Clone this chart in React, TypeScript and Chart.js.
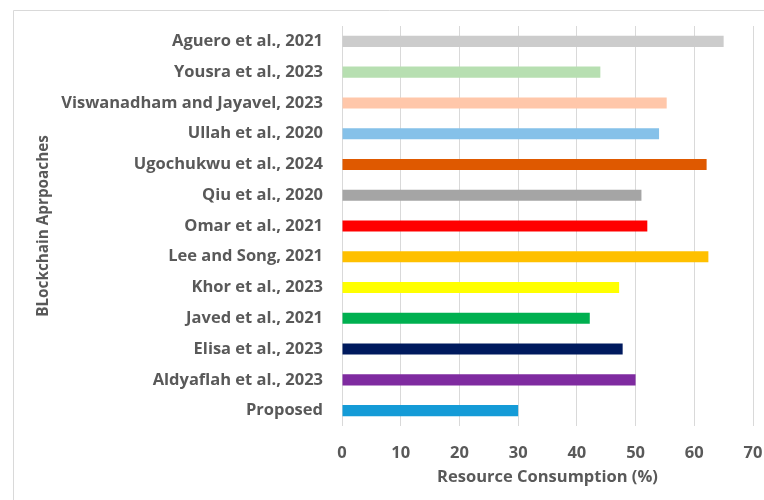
import React, { useEffect, useRef } from "react";
import { Chart, registerables } from "chart.js";

Chart.register(...registerables);

const categories = [
  "Aguero et al., 2021",
  "Yousra et al., 2023",
  "Viswanadham and Jayavel, 2023",
  "Ullah et al., 2020",
  "Ugochukwu et al., 2024",
  "Qiu et al., 2020",
  "Omar et al., 2021",
  "Lee and Song, 2021",
  "Khor et al., 2023",
  "Javed et al., 2021",
  "Elisa et al., 2023",
  "Aldyaflah et al., 2023",
  "Proposed",
];

const consumption = [65, 44, 55.3, 54, 62.1, 51, 52, 62.4, 47.2, 42.2, 47.8, 50, 30];

const barColors = [
  "#cccccc",
  "#b7dfb1",
  "#ffc7aa",
  "#85c1e9",
  "#df5900",
  "#a5a5a5",
  "#ff0000",
  "#ffc000",
  "#ffff00",
  "#00b050",
  "#001a5e",
  "#7f2ba0",
  "#149bd7",
];

const TEXT = "#595959";
const FONT = "'Open Sans', 'Noto Sans', sans-serif";
const SIZE = 16.5;

// Light frame around the chart, open to the right and bottom edges
const framePlugin = {
  id: "frame",
  beforeDraw(chart: Chart) {
    const ctx = chart.ctx;
    ctx.save();
    ctx.fillStyle = "#ffffff";
    ctx.fillRect(0, 0, chart.width, chart.height);
    ctx.strokeStyle = "#d9d9d9";
    ctx.lineWidth = 1;
    ctx.beginPath();
    ctx.moveTo(13.5, chart.height + 2);
    ctx.lineTo(13.5, 10.5);
    ctx.lineTo(chart.width + 2, 10.5);
    ctx.stroke();
    ctx.restore();
  },
};

export default function App() {
  const canvasRef = useRef<HTMLCanvasElement | null>(null);

  useEffect(() => {
    if (!canvasRef.current) return;
    const chart = new Chart(canvasRef.current, {
      type: "bar",
      data: {
        labels: categories,
        datasets: [
          {
            data: consumption,
            backgroundColor: barColors,
            borderWidth: 0,
            categoryPercentage: 1,
            barPercentage: 0.36,
          },
        ],
      },
      options: {
        indexAxis: "y",
        animation: false,
        responsive: false,
        maintainAspectRatio: false,
        layout: { padding: { left: 13, top: 26, right: 0, bottom: 13 } },
        plugins: {
          legend: { display: false },
          tooltip: { enabled: false },
        },
        scales: {
          x: {
            min: 0,
            max: 70,
            ticks: {
              stepSize: 10,
              color: TEXT,
              padding: 17,
              font: { family: FONT, size: SIZE, weight: "bold" },
            },
            grid: { color: "#d9d9d9", lineWidth: 1, drawTicks: false },
            border: { display: false },
            title: {
              display: true,
              text: "Resource Consumption (%)",
              color: TEXT,
              padding: { top: 6, bottom: 0 },
              font: { family: FONT, size: SIZE, weight: "bold" },
            },
            afterFit(scale: any) {
              scale.height = 61;
              scale.paddingLeft = 0;
              scale.paddingRight = 11;
            },
          },
          y: {
            ticks: {
              color: TEXT,
              padding: 19,
              font: { family: FONT, size: SIZE, weight: "bold" },
            },
            grid: { display: false, drawTicks: false },
            border: { display: false },
            title: {
              display: true,
              text: "BLockchain Aprpoaches",
              color: TEXT,
              padding: { top: 21, bottom: 0 },
              font: { family: FONT, size: 15.3, weight: "bold" },
            },
            afterFit(scale: any) {
              scale.width = 329;
              scale.paddingTop = 0;
              scale.paddingBottom = 0;
            },
          },
        },
      },
      plugins: [framePlugin],
    });
    return () => chart.destroy();
  }, []);

  return (
    <div style={{ position: "absolute", left: 0, top: 0, width: 764, height: 500 }}>
      <canvas ref={canvasRef} width={764} height={500} />
    </div>
  );
}
